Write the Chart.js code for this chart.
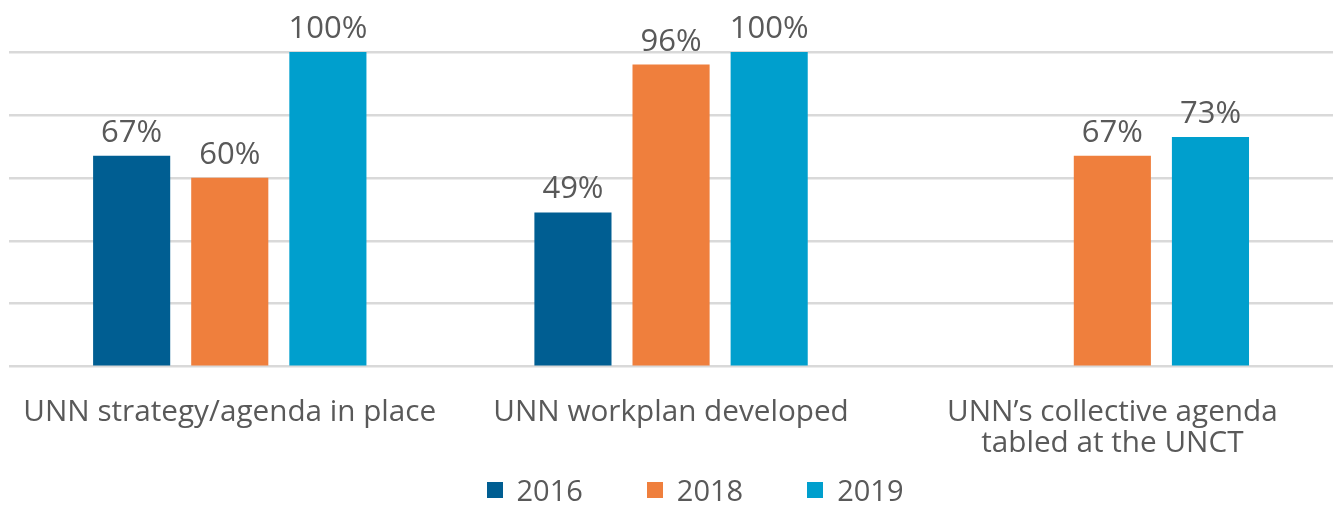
<!DOCTYPE html>
<html>
<head>
<meta charset="utf-8">
<script src="https://cdn.jsdelivr.net/npm/chart.js@4/dist/chart.umd.min.js"></script>
<style>
  html, body { margin: 0; padding: 0; background: #fff; }
  #wrap { position: relative; width: 1338px; height: 506px; }
  #legend {
    position: absolute; left: 52px; right: 0; top: 474px;
    display: flex; justify-content: center;
    font-family: 'Open Sans', 'Noto Sans', sans-serif; font-size: 29px;
    color: #595959; line-height: 32px;
  }
  #legend .item { display: flex; align-items: center; margin: 0 32px; }
  #legend .box { width: 16px; height: 16px; margin-right: 14px; }
</style>
</head>
<body>
<div id="wrap"><canvas id="chart"></canvas><div id="legend"></div></div>
<script>
// categories (multi-line label for the last one)
const categories = [
  "UNN strategy/agenda in place",
  "UNN workplan developed",
  ["UNN\u2019s collective agenda", "tabled at the UNCT"]
];
const seriesNames = ["2016", "2018", "2019"];
const values2016 = [67, 49, null];
const values2018 = [60, 96, 67];
const values2019 = [100, 100, 73];
const yTicks = [0, 20, 40, 60, 80, 100];

const colors = ["#005E92", "#EF7F3D", "#009FCD"];
const textGrey = "#595959";
const fontFamily = "'Open Sans', 'Noto Sans', sans-serif";

// value labels above every bar
const barLabels = {
  id: "barLabels",
  afterDatasetsDraw(chart) {
    const ctx = chart.ctx;
    ctx.save();
    ctx.fillStyle = textGrey;
    ctx.font = "31px " + fontFamily;
    ctx.textAlign = "center";
    ctx.textBaseline = "alphabetic";
    chart.data.datasets.forEach((ds, i) => {
      const meta = chart.getDatasetMeta(i);
      meta.data.forEach((bar, j) => {
        const v = ds.data[j];
        if (v === null || v === undefined) return;
        ctx.fillText(v + "%", bar.x, bar.y - 14);
      });
    });
    ctx.restore();
  }
};

const allSeries = [values2016, values2018, values2019];

// legend as html below the plot
const legendEl = document.getElementById("legend");
seriesNames.forEach((name, i) => {
  const item = document.createElement("div");
  item.className = "item";
  item.innerHTML = '<span class="box" style="background:' + colors[i] + '"></span><span>' + name + '</span>';
  legendEl.appendChild(item);
});

new Chart(document.getElementById("chart"), {
  type: "bar",
  data: {
    labels: categories,
    datasets: seriesNames.map((name, i) => ({
      label: name,
      data: allSeries[i],
      backgroundColor: colors[i],
      categoryPercentage: 0.667,
      barPercentage: 0.786
    }))
  },
  options: {
    responsive: true,
    maintainAspectRatio: false,
    animation: false,
    layout: { padding: { top: 52, left: 8, right: 5, bottom: 25 } },
    plugins: {
      legend: { display: false },
      tooltip: { enabled: false }
    },
    scales: {
      x: {
        grid: { display: false },
        border: { display: false },
        ticks: {
          color: textGrey,
          font: { family: fontFamily, size: 29.7, lineHeight: 1.05 },
          padding: 22,
          maxRotation: 0,
          autoSkip: false
        }
      },
      y: {
        min: yTicks[0],
        max: yTicks[yTicks.length - 1],
        afterBuildTicks(axis) {
          axis.ticks = yTicks.map(v => ({ value: v }));
        },
        ticks: { display: false },
        grid: { color: "#D9D9D9", lineWidth: 2.5, drawTicks: false },
        border: { display: false }
      }
    }
  },
  plugins: [barLabels]
});
</script>
</body>
</html>
